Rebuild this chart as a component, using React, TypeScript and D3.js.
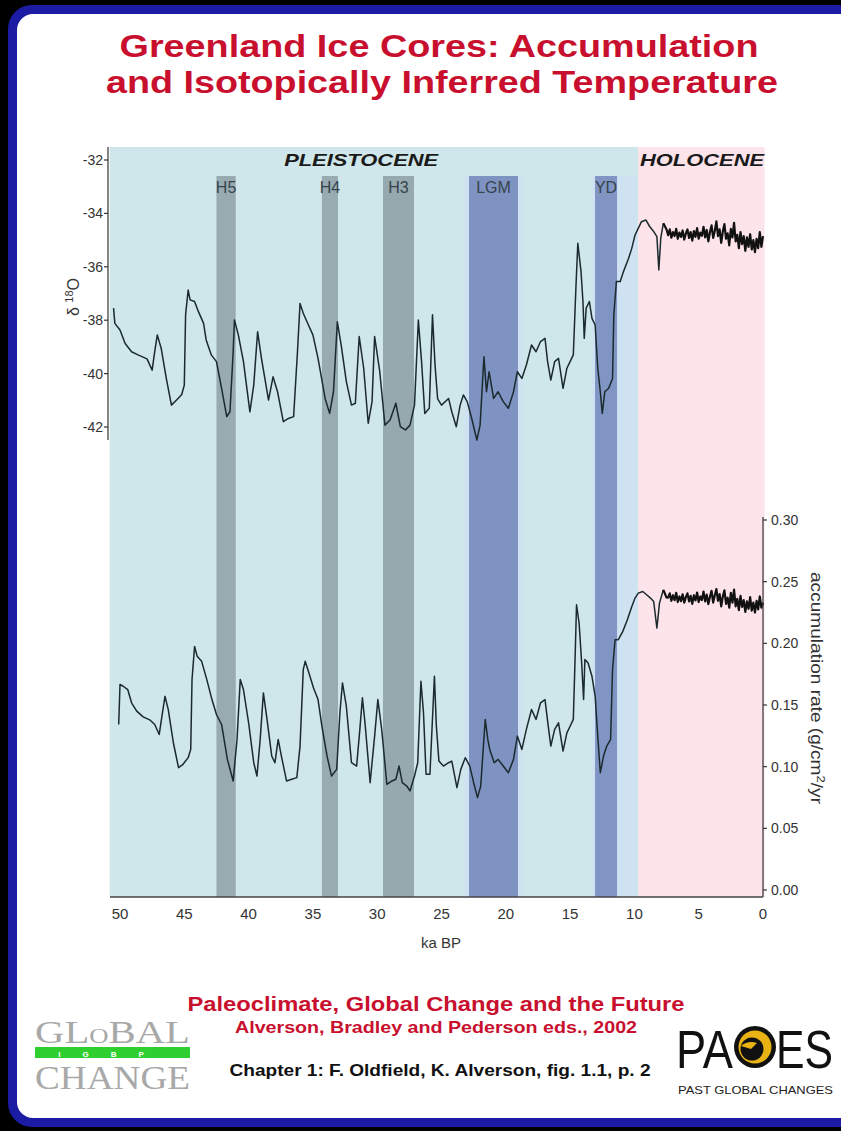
import React from "react";
import * as d3 from "d3";

// ---- data ----
const xTicks = [50, 45, 40, 35, 30, 25, 20, 15, 10, 5, 0];
const d18oTicks = [-32, -34, -36, -38, -40, -42];
const accTicks = [0, 0.05, 0.1, 0.15, 0.2, 0.25, 0.3];

const periods = [
  { name: "PLEISTOCENE", from: 50.8, to: 9.72, labelAt: 31.25, fill: "#cfe6ea", width: 154 },
  { name: "HOLOCENE", from: 9.72, to: -0.12, labelAt: 4.74, fill: "#fce4ea", width: 124 },
];

const halos = [
  { from: 23.2, to: 22.86 },
  { from: 19.05, to: 18.7 },
  { from: 13.28, to: 13.06 },
  { from: 11.35, to: 9.72 },
];

const events = [
  { name: "H5", from: 42.5, to: 41.0, fill: "#97abb1" },
  { name: "H4", from: 34.3, to: 33.05, fill: "#97abb1" },
  { name: "H3", from: 29.55, to: 27.14, fill: "#95a9af" },
  { name: "LGM", from: 22.86, to: 19.05, fill: "#7e93c1" },
  { name: "YD", from: 13.06, to: 11.35, fill: "#8095c3" },
];

// δ18O (per mil), glacial part: [ka BP, value]
const d18oGlacial: [number, number][] = [
  [50.5, -37.55], [50.4, -38.12], [50.0, -38.37], [49.6, -38.87], [49.1, -39.18], [48.6, -39.3],
  [47.9, -39.45], [47.5, -39.87], [47.3, -39.18], [47.1, -38.55], [46.8, -39.05], [46.4, -40.18],
  [46.0, -41.18], [45.6, -40.99], [45.2, -40.78], [45.0, -40.43], [44.9, -37.8], [44.7, -36.87],
  [44.55, -37.24], [44.2, -37.3], [43.9, -37.68], [43.5, -38.12], [43.3, -38.74], [42.9, -39.3],
  [42.5, -39.55], [42.1, -40.55], [41.7, -41.61], [41.45, -41.43], [41.2, -39.18], [41.1, -37.99],
  [40.8, -38.55], [40.4, -39.55], [39.9, -41.43], [39.6, -40.43], [39.3, -38.43], [39.0, -39.43],
  [38.45, -40.99], [38.1, -40.12], [37.75, -40.68], [37.3, -41.8], [36.9, -41.68], [36.5, -41.61],
  [36.2, -39.18], [36.0, -37.37], [35.75, -37.74], [35.35, -38.18], [35.0, -38.55], [34.6, -39.43],
  [34.05, -40.93], [33.7, -41.49], [33.4, -40.68], [33.1, -38.06], [32.8, -38.93], [32.4, -40.3],
  [32.0, -41.18], [31.7, -41.11], [31.4, -38.61], [31.05, -39.8], [30.7, -41.86], [30.4, -41.05],
  [30.2, -38.61], [29.8, -39.93], [29.4, -41.93], [29.0, -41.74], [28.55, -41.11], [28.2, -41.99],
  [27.8, -42.11], [27.45, -41.93], [27.1, -41.18], [26.8, -37.99], [26.55, -39.55], [26.3, -41.49],
  [25.95, -41.3], [25.7, -37.8], [25.5, -39.7], [25.3, -40.95], [25.0, -41.18], [24.45, -40.93],
  [24.2, -41.43], [23.85, -41.99], [23.55, -41.18], [23.3, -40.8], [23.0, -41.05], [22.65, -41.68],
  [22.25, -42.49], [22.0, -41.93], [21.7, -39.37], [21.5, -40.68], [21.3, -39.93], [20.95, -40.93],
  [20.6, -40.68], [20.2, -41.05], [19.8, -41.3], [19.4, -40.68], [19.1, -39.93], [18.75, -40.18],
  [18.4, -39.68], [18.0, -38.93], [17.65, -39.18], [17.3, -38.8], [16.95, -38.68], [16.75, -39.55],
  [16.5, -40.24], [16.2, -39.55], [15.9, -39.43], [15.55, -40.55], [15.25, -39.8], [15.0, -39.55],
  [14.75, -39.3], [14.55, -36.8], [14.4, -35.12], [14.15, -36.18], [14.0, -37.3], [13.9, -38.68],
  [13.75, -37.55], [13.5, -37.3], [13.3, -37.93], [13.05, -38.18], [12.85, -39.8], [12.65, -40.68],
  [12.5, -41.49], [12.3, -40.68], [12.0, -40.55], [11.7, -40.18], [11.6, -37.8], [11.4, -36.55],
  [11.1, -36.55], [10.85, -36.18], [10.45, -35.68], [10.2, -35.3], [9.95, -34.81], [9.7, -34.56],
  [9.45, -34.31], [9.1, -34.25], [8.8, -34.5], [8.5, -34.68], [8.25, -34.87], [8.1, -36.12],
  [7.95, -34.93], [7.75, -34.37],
];

// δ18O, Holocene part (noisy record)
const d18oHolocene: [number, number][] = [
  [7.75, -34.37],
  [7.5, -34.6], [7.375, -34.82], [7.25, -34.6], [7.125, -34.91], [7.0, -34.7], [6.875, -34.85],
  [6.75, -34.58], [6.625, -34.95], [6.5, -34.72], [6.375, -34.88], [6.25, -34.64], [6.125, -34.98],
  [6.0, -34.75], [5.875, -34.6], [5.75, -34.92], [5.625, -34.7], [5.5, -35.02], [5.375, -34.66],
  [5.25, -34.88], [5.125, -34.55], [5.0, -34.95], [4.875, -34.72], [4.75, -34.84], [4.625, -34.5],
  [4.5, -34.9], [4.375, -34.62], [4.25, -35.05], [4.125, -34.7], [4.0, -34.45], [3.875, -34.92],
  [3.75, -34.66], [3.625, -34.3], [3.5, -34.85], [3.375, -34.6], [3.25, -35.1], [3.125, -34.68],
  [3.0, -34.4], [2.875, -34.95], [2.75, -34.75], [2.625, -35.2], [2.5, -34.58], [2.375, -34.9],
  [2.25, -34.35], [2.125, -35.05], [2.0, -34.8], [1.875, -35.3], [1.75, -34.7], [1.625, -35.15],
  [1.5, -34.85], [1.375, -35.4], [1.25, -34.9], [1.125, -35.25], [1.0, -34.78], [0.875, -35.35],
  [0.75, -35.0], [0.625, -35.45], [0.5, -34.95], [0.375, -35.3], [0.25, -34.7], [0.125, -35.25],
  [0.0, -34.85],
];

// accumulation (g/cm2/yr), glacial part
const accGlacial: [number, number][] = [
  [50.1, 0.1342], [50.0, 0.1666], [49.75, 0.1652], [49.4, 0.1625], [49.1, 0.1518], [48.7, 0.145],
  [48.2, 0.1404], [47.65, 0.1377], [47.3, 0.1342], [46.95, 0.1261], [46.7, 0.1437], [46.5, 0.157],
  [46.25, 0.1464], [45.85, 0.1194], [45.45, 0.0992], [45.1, 0.1019], [44.7, 0.1073], [44.5, 0.114],
  [44.4, 0.1706], [44.2, 0.1975], [44.0, 0.1895], [43.65, 0.1854], [43.25, 0.1706], [42.85, 0.1544],
  [42.5, 0.1423], [42.1, 0.1342], [41.65, 0.1059], [41.2, 0.0884], [40.9, 0.1221], [40.65, 0.1706],
  [40.4, 0.1625], [40.0, 0.1356], [39.6, 0.1032], [39.35, 0.0924], [39.1, 0.1221], [38.85, 0.1598],
  [38.6, 0.1409], [38.2, 0.1086], [37.95, 0.1032], [37.7, 0.1221], [37.45, 0.1086], [37.05, 0.0884],
  [36.65, 0.0898], [36.25, 0.0911], [36.0, 0.1167], [35.75, 0.1787], [35.6, 0.1854], [35.35, 0.1773],
  [34.95, 0.1638], [34.6, 0.1544], [34.3, 0.1328], [33.9, 0.1086], [33.55, 0.0924], [33.15, 0.0978],
  [32.9, 0.1437], [32.7, 0.1679], [32.4, 0.149], [32.0, 0.1032], [31.6, 0.1005], [31.35, 0.1302],
  [31.15, 0.1558], [30.95, 0.1356], [30.55, 0.087], [30.2, 0.1248], [29.95, 0.1544], [29.65, 0.1302],
  [29.25, 0.0857], [28.85, 0.0884], [28.55, 0.0898], [28.3, 0.1005], [28.05, 0.087], [27.7, 0.0843],
  [27.45, 0.0803], [27.1, 0.0924], [26.85, 0.1032], [26.6, 0.1693], [26.4, 0.1437], [26.2, 0.0938],
  [25.9, 0.0938], [25.55, 0.1733], [25.4, 0.133], [25.2, 0.1045], [24.85, 0.1005], [24.45, 0.1032],
  [24.2, 0.1045], [23.8, 0.083], [23.5, 0.0978], [23.15, 0.1073], [22.8, 0.1005], [22.5, 0.087],
  [22.2, 0.0749], [21.95, 0.0843], [21.6, 0.1383], [21.4, 0.1221], [21.25, 0.114], [20.9, 0.1032],
  [20.6, 0.1059], [20.2, 0.1005], [19.8, 0.0951], [19.4, 0.1059], [19.1, 0.1248], [18.75, 0.114],
  [18.4, 0.1302], [18.0, 0.1464], [17.65, 0.1383], [17.3, 0.1518], [16.95, 0.1544], [16.7, 0.1328],
  [16.5, 0.1167], [16.2, 0.1302], [15.9, 0.1356], [15.55, 0.1126], [15.25, 0.1274], [15.0, 0.1328],
  [14.75, 0.1383], [14.6, 0.1922], [14.5, 0.2313], [14.3, 0.2165], [14.1, 0.184], [13.95, 0.1544],
  [13.85, 0.1868], [13.6, 0.184], [13.3, 0.1733], [13.05, 0.157], [12.85, 0.1248], [12.65, 0.0951],
  [12.4, 0.1086], [12.15, 0.1167], [11.85, 0.1221], [11.7, 0.1787], [11.5, 0.203], [11.25, 0.203],
  [10.9, 0.2097], [10.55, 0.2191], [10.2, 0.2299], [9.95, 0.2367], [9.7, 0.2407], [9.35, 0.242],
  [9.05, 0.2394], [8.75, 0.2367], [8.5, 0.2339], [8.25, 0.2124], [8.05, 0.2326], [7.75, 0.2434],
];

// accumulation, Holocene part
const accHolocene: [number, number][] = [
  [7.75, 0.2434],
  [7.5, 0.2372], [7.375, 0.237], [7.25, 0.2405], [7.125, 0.2345], [7.0, 0.239], [6.875, 0.235],
  [6.75, 0.241], [6.625, 0.2335], [6.5, 0.238], [6.375, 0.2342], [6.25, 0.2398], [6.125, 0.233],
  [6.0, 0.2375], [5.875, 0.2405], [5.75, 0.234], [5.625, 0.2385], [5.5, 0.232], [5.375, 0.239],
  [5.25, 0.2348], [5.125, 0.2412], [5.0, 0.2335], [4.875, 0.238], [4.75, 0.2352], [4.625, 0.242],
  [4.5, 0.234], [4.375, 0.2395], [4.25, 0.2318], [4.125, 0.2378], [4.0, 0.2425], [3.875, 0.233],
  [3.75, 0.239], [3.625, 0.244], [3.5, 0.2345], [3.375, 0.24], [3.25, 0.23], [3.125, 0.238],
  [3.0, 0.243], [2.875, 0.232], [2.75, 0.237], [2.625, 0.229], [2.5, 0.241], [2.375, 0.233],
  [2.25, 0.2435], [2.125, 0.23], [2.0, 0.236], [1.875, 0.227], [1.75, 0.2385], [1.625, 0.2295],
  [1.5, 0.235], [1.375, 0.2255], [1.25, 0.234], [1.125, 0.228], [1.0, 0.2375], [0.875, 0.2265],
  [0.75, 0.233], [0.625, 0.225], [0.5, 0.2345], [0.375, 0.2275], [0.25, 0.238], [0.125, 0.229],
  [0.0, 0.233],
];

const SANS = "'Liberation Sans', Arial, Helvetica, sans-serif";
const SERIF = "'Liberation Serif', 'Times New Roman', serif";
const LINE = "#1b2a2d";

export default function App() {
  const W = 841;
  const H = 1131;
  const top = 147;
  const bandTop = 176;
  const bottom = 897;

  const x = d3.scaleLinear().domain([50, 0]).range([120, 763]);
  const yD = d3.scaleLinear().domain([-32, -42]).range([160, 427]);
  const yA = d3.scaleLinear().domain([0, 0.3]).range([890, 520]);

  const lineD = d3
    .line<[number, number]>()
    .x((d) => x(d[0]))
    .y((d) => yD(d[1]));
  const lineA = d3
    .line<[number, number]>()
    .x((d) => x(d[0]))
    .y((d) => yA(d[1]));

  const band = (from: number, to: number) => ({
    x: x(from),
    width: x(to) - x(from),
  });

  return (
    <svg
      width={W}
      height={H}
      style={{ position: "absolute", left: 0, top: 0, display: "block" }}
    >
      {/* slide frame */}
      <rect x={0} y={0} width={W} height={H} fill="#000" />
      <rect x={8} y={5} width={W + 40} height={1122} rx={24} fill="#1b1ba3" />
      <rect x={17} y={14} width={W + 40} height={1104} rx={16} fill="#fff" />

      {/* title */}
      <g fontFamily={SANS} fontWeight="bold" fill="#c8102e" textAnchor="middle">
        <text x={439} y={57} fontSize={32} textLength={639} lengthAdjust="spacingAndGlyphs">
          Greenland Ice Cores: Accumulation
        </text>
        <text x={442} y={93} fontSize={32} textLength={672} lengthAdjust="spacingAndGlyphs">
          and Isotopically Inferred Temperature
        </text>
      </g>

      {/* background periods and events */}
      {periods.map((p) => {
        const b = band(p.from, p.to);
        return <rect key={p.name} x={b.x} y={top} width={b.width} height={bottom - top} fill={p.fill} />;
      })}
      {halos.map((h, i) => {
        const b = band(h.from, h.to);
        return <rect key={i} x={b.x} y={bandTop} width={b.width} height={bottom - bandTop} fill="#cfe2f2" />;
      })}
      {events.map((e) => {
        const b = band(e.from, e.to);
        return <rect key={e.name} x={b.x} y={bandTop} width={b.width} height={bottom - bandTop} fill={e.fill} />;
      })}

      {/* period and event labels */}
      <g fontFamily={SANS} fontWeight="bold" fontStyle="italic" fill="#1a1a1a" textAnchor="middle">
        {periods.map((p) => (
          <text key={p.name} x={x(p.labelAt)} y={166} fontSize={17} textLength={p.width} lengthAdjust="spacingAndGlyphs">
            {p.name}
          </text>
        ))}
      </g>
      <g fontFamily={SANS} fill="#36434d" textAnchor="middle" fontSize={16}>
        {events.map((e) => (
          <text key={e.name} x={x((e.from + e.to) / 2)} y={193}>
            {e.name}
          </text>
        ))}
      </g>

      {/* curves */}
      <path d={lineD(d18oGlacial) || ""} fill="none" stroke={LINE} strokeWidth={1.5} strokeLinejoin="round" />
      <path d={lineD(d18oHolocene) || ""} fill="none" stroke="#111" strokeWidth={2.2} strokeLinejoin="round" />
      <path d={lineA(accGlacial) || ""} fill="none" stroke={LINE} strokeWidth={1.5} strokeLinejoin="round" />
      <path d={lineA(accHolocene) || ""} fill="none" stroke="#111" strokeWidth={2.2} strokeLinejoin="round" />

      {/* left axis: d18O */}
      <g fontFamily={SANS} fontSize={14} fill="#333">
        <line x1={108} x2={108} y1={top} y2={440} stroke="#333" strokeWidth={1.2} />
        {d18oTicks.map((t) => (
          <g key={t}>
            <line x1={104} x2={108} y1={yD(t)} y2={yD(t)} stroke="#333" strokeWidth={1.2} />
            <text x={103} y={yD(t)} dy="0.35em" textAnchor="end">
              {t}
            </text>
          </g>
        ))}
        <text transform="translate(79,297) rotate(-90)" textAnchor="middle" fontSize={16}>
          δ <tspan fontSize={11} dy={-6}>18</tspan>
          <tspan dy={6}>O</tspan>
        </text>
      </g>

      {/* right axis: accumulation */}
      <g fontFamily={SANS} fontSize={14} fill="#333">
        <line x1={763} x2={763} y1={517} y2={bottom} stroke="#333" strokeWidth={1.2} />
        {accTicks.map((t) => (
          <g key={t}>
            <line x1={763} x2={767} y1={yA(t)} y2={yA(t)} stroke="#333" strokeWidth={1.2} />
            <text x={771} y={yA(t)} dy="0.35em">
              {t.toFixed(2)}
            </text>
          </g>
        ))}
        <text
          transform="translate(811,688) rotate(90)"
          textAnchor="middle"
          fontSize={16}
          textLength={232}
          lengthAdjust="spacingAndGlyphs"
        >
          accumulation rate (g/cm<tspan fontSize={11} dy={-6}>2</tspan>
          <tspan dy={6}>/yr</tspan>
        </text>
      </g>

      {/* bottom axis */}
      <g fontFamily={SANS} fontSize={15} fill="#333">
        <line x1={110} x2={763} y1={bottom} y2={bottom} stroke="#444" strokeWidth={1.6} />
        {xTicks.map((t) => (
          <text key={t} x={x(t)} y={919} textAnchor="middle">
            {t}
          </text>
        ))}
        <text x={441} y={948} textAnchor="middle">
          ka BP
        </text>
      </g>

      {/* footer */}
      <g fontFamily={SANS} fontWeight="bold" textAnchor="middle">
        <text x={436} y={1011} fontSize={21} fill="#c8102e" textLength={497} lengthAdjust="spacingAndGlyphs">
          Paleoclimate, Global Change and the Future
        </text>
        <text x={436} y={1033} fontSize={17} fill="#c8102e" textLength={402} lengthAdjust="spacingAndGlyphs">
          Alverson, Bradley and Pederson eds., 2002
        </text>
        <text x={440} y={1076} fontSize={17} fill="#111" textLength={421} lengthAdjust="spacingAndGlyphs">
          Chapter 1: F. Oldfield, K. Alverson, fig. 1.1, p. 2
        </text>
      </g>

      {/* Global Change logo */}
      <g fontFamily={SERIF} fill="#a8a8a8">
        <text x={35} y={1043} fontSize={32} textLength={155} lengthAdjust="spacingAndGlyphs">
          GL<tspan fontSize={21}>O</tspan>BAL
        </text>
        <rect x={35} y={1047} width={155} height={11} fill="#2fcf2f" />
        <text x={112} y={1056.5} fontSize={8} fill="#fff" fontFamily={SANS} fontWeight="bold" textAnchor="middle" letterSpacing={22}>
          IGBP
        </text>
        <text x={35} y={1089} fontSize={34} textLength={155} lengthAdjust="spacingAndGlyphs">
          CHANGE
        </text>
      </g>

      {/* PAGES logo */}
      <g fontFamily={SANS} fill="#111">
        <text transform="translate(676,1068) scale(1,1.2)" fontSize={45} textLength={57} lengthAdjust="spacingAndGlyphs">
          PA
        </text>
        <circle cx={755} cy={1047} r={21} fill="#111" />
        <circle cx={755} cy={1047} r={16.5} fill="#e8b313" />
        <circle cx={752} cy={1049} r={11.5} fill="#111" />
        <path d="M 741 1046 Q 748 1040 757 1043 L 751 1049 Z" fill="#e8b313" />
        <text transform="translate(776,1068) scale(1,1.2)" fontSize={45} textLength={57} lengthAdjust="spacingAndGlyphs">
          ES
        </text>
        <text x={678} y={1094} fontSize={11} textLength={155} lengthAdjust="spacingAndGlyphs" fill="#222">
          PAST GLOBAL CHANGES
        </text>
      </g>
    </svg>
  );
}
